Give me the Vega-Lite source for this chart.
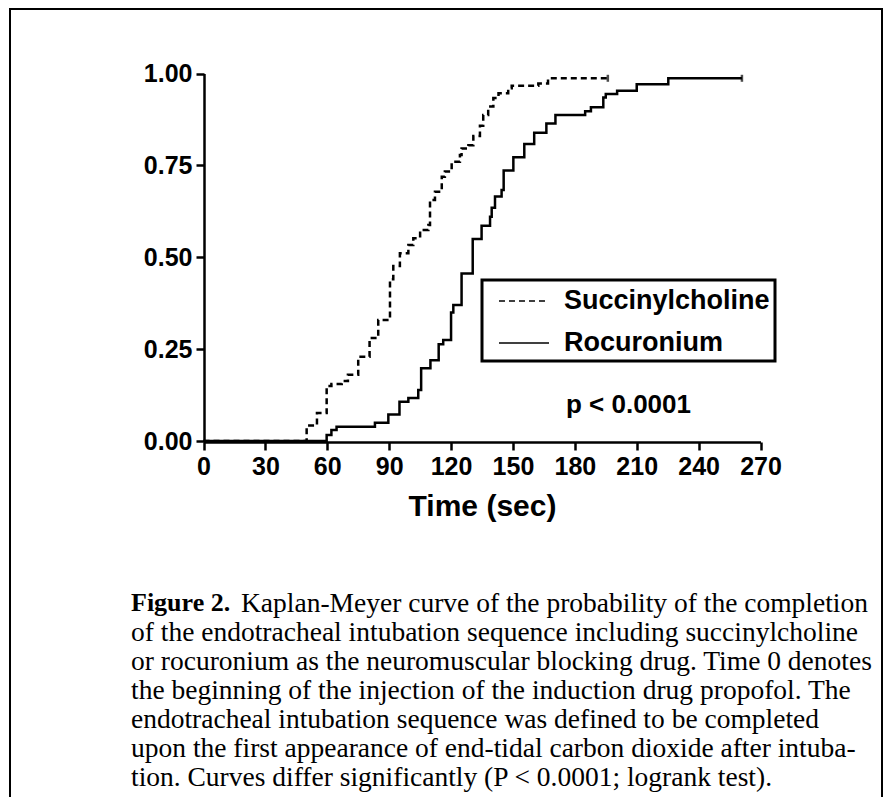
{
  "$schema": "https://vega.github.io/schema/vega-lite/v6.json",
  "width": 872,
  "height": 796,
  "autosize": "none",
  "padding": {"left": 10, "top": 9, "right": 10, "bottom": 0},
  "background": "white",
  "config": {
    "view": {"stroke": "black", "strokeWidth": 2},
    "font": "Liberation Sans",
    "legend": {"strokeWidth": 3}
  },
  "title": {
    "text": "Figure 2.",
    "subtitle": [
      "\u200b\u00a0\u00a0\u00a0\u00a0\u00a0\u00a0\u00a0\u00a0\u00a0\u00a0\u00a0\u00a0\u00a0\u00a0\u00a0\u00a0Kaplan-Meyer curve of the probability of the completion",
      "of the endotracheal intubation sequence including succinylcholine",
      "or rocuronium as the neuromuscular blocking drug. Time 0 denotes",
      "the beginning of the injection of the induction drug propofol. The",
      "endotracheal intubation sequence was defined to be completed",
      "upon the first appearance of end-tidal carbon dioxide after intuba-",
      "tion. Curves differ significantly (P < 0.0001; logrank test)."
    ],
    "orient": "bottom",
    "anchor": "start",
    "frame": "group",
    "offset": -215,
    "dx": 121,
    "font": "Liberation Serif",
    "fontSize": 26,
    "fontWeight": "bold",
    "color": "black",
    "subtitleFont": "Liberation Serif",
    "subtitleFontSize": 27.5,
    "subtitleFontWeight": "normal",
    "subtitleColor": "black",
    "subtitleLineHeight": 29,
    "subtitlePadding": -26.5
  },
  "layer": [
    {
      "data": {"values": [
        {"drug": "Succinylcholine", "t": 0, "p": 0},
        {"drug": "Succinylcholine", "t": 50, "p": 0.042},
        {"drug": "Succinylcholine", "t": 55, "p": 0.076},
        {"drug": "Succinylcholine", "t": 59.7, "p": 0.15},
        {"drug": "Succinylcholine", "t": 62, "p": 0.155},
        {"drug": "Succinylcholine", "t": 67, "p": 0.163},
        {"drug": "Succinylcholine", "t": 70, "p": 0.18},
        {"drug": "Succinylcholine", "t": 75, "p": 0.229},
        {"drug": "Succinylcholine", "t": 80.5, "p": 0.28},
        {"drug": "Succinylcholine", "t": 84.7, "p": 0.329},
        {"drug": "Succinylcholine", "t": 90.4, "p": 0.44},
        {"drug": "Succinylcholine", "t": 92, "p": 0.476},
        {"drug": "Succinylcholine", "t": 95.2, "p": 0.511},
        {"drug": "Succinylcholine", "t": 99.3, "p": 0.533},
        {"drug": "Succinylcholine", "t": 101.7, "p": 0.552},
        {"drug": "Succinylcholine", "t": 105, "p": 0.574},
        {"drug": "Succinylcholine", "t": 109, "p": 0.588},
        {"drug": "Succinylcholine", "t": 109.8, "p": 0.656},
        {"drug": "Succinylcholine", "t": 112.2, "p": 0.678},
        {"drug": "Succinylcholine", "t": 115.5, "p": 0.719},
        {"drug": "Succinylcholine", "t": 117, "p": 0.733},
        {"drug": "Succinylcholine", "t": 120.3, "p": 0.76},
        {"drug": "Succinylcholine", "t": 124.3, "p": 0.778},
        {"drug": "Succinylcholine", "t": 125.1, "p": 0.796},
        {"drug": "Succinylcholine", "t": 128.4, "p": 0.805},
        {"drug": "Succinylcholine", "t": 130.8, "p": 0.83},
        {"drug": "Succinylcholine", "t": 134, "p": 0.858},
        {"drug": "Succinylcholine", "t": 135.6, "p": 0.887},
        {"drug": "Succinylcholine", "t": 138, "p": 0.91},
        {"drug": "Succinylcholine", "t": 140.5, "p": 0.933},
        {"drug": "Succinylcholine", "t": 143, "p": 0.946},
        {"drug": "Succinylcholine", "t": 147.7, "p": 0.96},
        {"drug": "Succinylcholine", "t": 149.4, "p": 0.967},
        {"drug": "Succinylcholine", "t": 162.3, "p": 0.973},
        {"drug": "Succinylcholine", "t": 167, "p": 0.987},
        {"drug": "Succinylcholine", "t": 196, "p": 0.987},
        {"drug": "Rocuronium", "t": 0, "p": 0},
        {"drug": "Rocuronium", "t": 59.7, "p": 0.016},
        {"drug": "Rocuronium", "t": 62, "p": 0.03},
        {"drug": "Rocuronium", "t": 64.5, "p": 0.039},
        {"drug": "Rocuronium", "t": 83.1, "p": 0.05},
        {"drug": "Rocuronium", "t": 89.6, "p": 0.072},
        {"drug": "Rocuronium", "t": 95, "p": 0.107},
        {"drug": "Rocuronium", "t": 99.3, "p": 0.117},
        {"drug": "Rocuronium", "t": 104.1, "p": 0.139},
        {"drug": "Rocuronium", "t": 105.5, "p": 0.198},
        {"drug": "Rocuronium", "t": 110, "p": 0.22},
        {"drug": "Rocuronium", "t": 114, "p": 0.263},
        {"drug": "Rocuronium", "t": 116.2, "p": 0.275},
        {"drug": "Rocuronium", "t": 120, "p": 0.35},
        {"drug": "Rocuronium", "t": 121.1, "p": 0.37},
        {"drug": "Rocuronium", "t": 125.1, "p": 0.456},
        {"drug": "Rocuronium", "t": 130.5, "p": 0.55},
        {"drug": "Rocuronium", "t": 134.8, "p": 0.586},
        {"drug": "Rocuronium", "t": 138.9, "p": 0.61},
        {"drug": "Rocuronium", "t": 139.7, "p": 0.635},
        {"drug": "Rocuronium", "t": 141.3, "p": 0.665},
        {"drug": "Rocuronium", "t": 144.5, "p": 0.683},
        {"drug": "Rocuronium", "t": 145.5, "p": 0.736},
        {"drug": "Rocuronium", "t": 150.2, "p": 0.772},
        {"drug": "Rocuronium", "t": 155.5, "p": 0.808},
        {"drug": "Rocuronium", "t": 160.3, "p": 0.839},
        {"drug": "Rocuronium", "t": 166.2, "p": 0.864},
        {"drug": "Rocuronium", "t": 170.6, "p": 0.887},
        {"drug": "Rocuronium", "t": 185, "p": 0.897},
        {"drug": "Rocuronium", "t": 187.8, "p": 0.908},
        {"drug": "Rocuronium", "t": 193.8, "p": 0.935},
        {"drug": "Rocuronium", "t": 195, "p": 0.944},
        {"drug": "Rocuronium", "t": 200.5, "p": 0.953},
        {"drug": "Rocuronium", "t": 210, "p": 0.971},
        {"drug": "Rocuronium", "t": 225.3, "p": 0.987},
        {"drug": "Rocuronium", "t": 261, "p": 0.987}
      ]},
      "mark": {"type": "line", "interpolate": "step-after", "color": "black", "strokeWidth": 2.5, "clip": false},
      "encoding": {
        "x": {
          "field": "t", "type": "quantitative",
          "scale": {"domain": [0, 270], "range": [193.5, 750.5], "nice": false, "zero": false},
          "axis": {
            "values": [0, 30, 60, 90, 120, 150, 180, 210, 240, 270],
            "offset": -363,
            "grid": false,
            "title": "Time (sec)",
            "titleFont": "Liberation Sans", "titleFontSize": 30, "titleFontWeight": "bold", "titleColor": "black",
            "titlePadding": 12,
            "labelFont": "Liberation Sans", "labelFontSize": 25, "labelFontWeight": "bold", "labelColor": "black",
            "labelPadding": 4, "labelFlush": false, "labelOverlap": false,
            "domainColor": "black", "domainWidth": 2.5,
            "tickColor": "black", "tickWidth": 2.5, "tickSize": 8
          }
        },
        "y": {
          "field": "p", "type": "quantitative",
          "scale": {"domain": [0, 1], "range": [432, 64.5], "nice": false, "zero": false},
          "axis": {
            "values": [0, 0.25, 0.5, 0.75, 1],
            "format": ".2f",
            "offset": -194,
            "grid": false,
            "title": null,
            "labelFont": "Liberation Sans", "labelFontSize": 25, "labelFontWeight": "bold", "labelColor": "black",
            "labelPadding": 4, "labelFlush": false, "labelOverlap": false,
            "domainColor": "black", "domainWidth": 2.5,
            "tickColor": "black", "tickWidth": 2.5, "tickSize": 8
          }
        },
        "strokeDash": {
          "field": "drug", "type": "nominal",
          "scale": {"domain": ["Succinylcholine", "Rocuronium"], "range": [[6, 4], [1, 0]]},
          "legend": {
            "title": null,
            "orient": "none",
            "legendX": 472,
            "legendY": 271,
            "direction": "vertical",
            "strokeColor": "black",
            "fillColor": "white",
            "padding": 5,
            "symbolType": "M-1.667,0H1.667",
            "symbolSize": 900,
            "symbolStrokeWidth": 1.5,
            "symbolStrokeColor": "black",
            "symbolFillColor": "transparent",
            "symbolOffset": 21,
            "labelFont": "Liberation Sans",
            "labelFontSize": 27,
            "labelFontWeight": "bold",
            "labelColor": "black",
            "labelOffset": 24,
            "labelLimit": 400,
            "rowPadding": 13
          }
        }
      }
    },
    {
      "data": {"values": [
        {"drug": "Succinylcholine", "t": 196, "p": 0.987},
        {"drug": "Rocuronium", "t": 261, "p": 0.987}
      ]},
      "mark": {"type": "tick", "orient": "vertical", "color": "black", "size": 7, "thickness": 2.5},
      "encoding": {
        "x": {"field": "t", "type": "quantitative"},
        "y": {"field": "p", "type": "quantitative"}
      }
    },
    {
      "data": {"values": [{"label": "p < 0.0001"}]},
      "mark": {"type": "text", "font": "Liberation Sans", "fontSize": 26, "fontWeight": "bold", "color": "black", "align": "center", "baseline": "middle"},
      "encoding": {
        "x": {"datum": 206},
        "y": {"datum": 0.098},
        "text": {"field": "label"}
      }
    }
  ]
}
